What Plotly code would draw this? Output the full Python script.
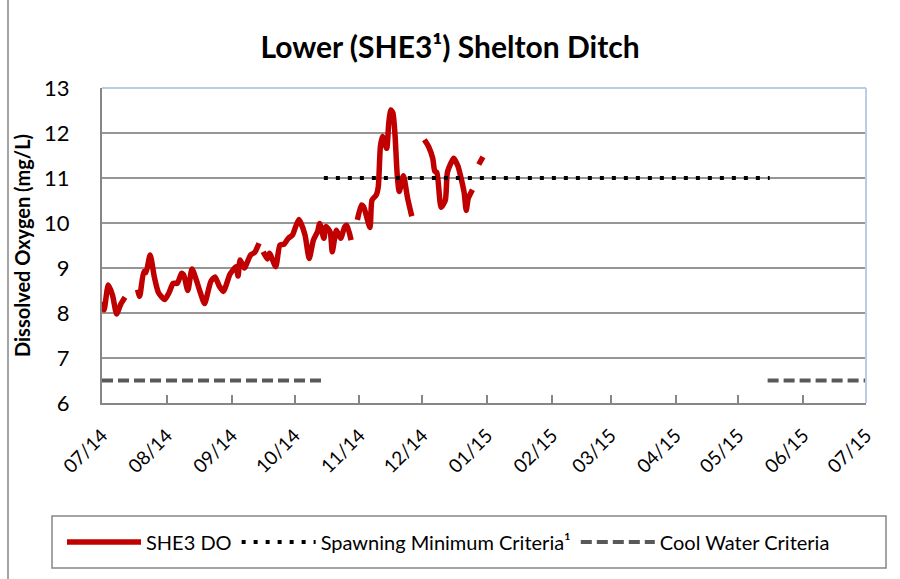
import plotly.graph_objects as go

# Daily dissolved oxygen readings at SHE3 (mg/L); None marks gaps in the record
do_dates = [
    "2014-07-01", "2014-07-02", "2014-07-04", "2014-07-06", "2014-07-08", "2014-07-10", "2014-07-12",
    "2014-07-15",
    "2014-07-18", "2014-07-19", "2014-07-21", "2014-07-22", "2014-07-24", "2014-07-26", "2014-07-28",
    "2014-07-31", "2014-08-02", "2014-08-04", "2014-08-06", "2014-08-08", "2014-08-09", "2014-08-11",
    "2014-08-13", "2014-08-15", "2014-08-17", "2014-08-19", "2014-08-22", "2014-08-24", "2014-08-26",
    "2014-08-28", "2014-08-31", "2014-09-01", "2014-09-03", "2014-09-04", "2014-09-05", "2014-09-07",
    "2014-09-10", "2014-09-12", "2014-09-14",
    "2014-09-15",
    "2014-09-16", "2014-09-18", "2014-09-19", "2014-09-22", "2014-09-24", "2014-09-26", "2014-09-28",
    "2014-09-30", "2014-10-01", "2014-10-03", "2014-10-04", "2014-10-06", "2014-10-08", "2014-10-10",
    "2014-10-12", "2014-10-13", "2014-10-15", "2014-10-16", "2014-10-18", "2014-10-19", "2014-10-21",
    "2014-10-23", "2014-10-25", "2014-10-26", "2014-10-28",
    "2014-10-29",
    "2014-10-31", "2014-11-02", "2014-11-03", "2014-11-06", "2014-11-07", "2014-11-09", "2014-11-10",
    "2014-11-11", "2014-11-12", "2014-11-14", "2014-11-15", "2014-11-16", "2014-11-17", "2014-11-18",
    "2014-11-19", "2014-11-20", "2014-11-22", "2014-11-24", "2014-11-26",
    "2014-11-29",
    "2014-12-02", "2014-12-04", "2014-12-06", "2014-12-07", "2014-12-08", "2014-12-10", "2014-12-12",
    "2014-12-13", "2014-12-15", "2014-12-16", "2014-12-18", "2014-12-19", "2014-12-21", "2014-12-22",
    "2014-12-23", "2014-12-25",
    "2014-12-27",
    "2014-12-28", "2014-12-30",
]
do_values = [
    8.25, 8.07, 8.62, 8.40, 7.98, 8.20, 8.35,
    None,
    8.52, 8.37, 8.92, 8.90, 9.29, 8.80, 8.45,
    8.30, 8.45, 8.66, 8.66, 8.88, 8.85, 8.50,
    8.98, 8.74, 8.45, 8.21, 8.70, 8.80, 8.60,
    8.48, 8.85, 8.92, 9.03, 8.82, 9.18, 9.00,
    9.29, 9.35, 9.55,
    None,
    9.36, 9.20, 9.33, 9.03, 9.51, 9.53, 9.66,
    9.73, 9.85, 10.08, 10.00, 9.73, 9.21, 9.62,
    9.81, 9.99, 9.66, 9.92, 9.80, 9.36, 9.84,
    9.66, 9.92, 9.95, 9.62,
    None,
    10.07, 10.40, 10.36, 9.90, 10.51, 10.62, 10.81,
    11.70, 11.92, 11.66, 12.22, 12.51, 12.44, 11.95,
    11.10, 10.70, 11.05, 10.55, 10.15,
    None,
    11.85, 11.70, 11.44, 11.15, 11.12, 10.35, 10.50,
    11.12, 11.36, 11.44, 11.27, 11.10, 10.68, 10.28,
    10.55, 10.74,
    None,
    11.30, 11.47,
]

# Criteria (mg/L) and the periods they apply to
spawning_dates = ["2014-10-15", "2015-05-16"]
spawning_values = [11, 11]
cool_dates = ["2014-07-01", "2014-10-14", None, "2015-05-15", "2015-07-01"]
cool_values = [6.5, 6.5, None, 6.5, 6.5]

month_ticks = ["2014-07-01", "2014-08-01", "2014-09-01", "2014-10-01", "2014-11-01",
               "2014-12-01", "2015-01-01", "2015-02-01", "2015-03-01", "2015-04-01",
               "2015-05-01", "2015-06-01", "2015-07-01"]
month_labels = ["07/14", "08/14", "09/14", "10/14", "11/14", "12/14", "01/15",
                "02/15", "03/15", "04/15", "05/15", "06/15", "07/15"]

FONT = "Lato"

# plot area in pixels, used to place the frame and legend box in paper units
PL, PR, PT, PB = 102, 866, 88, 403
W, H = 900, 579


def px_x(p):
    return (p - PL) / (PR - PL)


def px_y(p):
    return (PB - p) / (PB - PT)


fig = go.Figure()
fig.add_trace(go.Scatter(
    x=do_dates, y=do_values, name="SHE3 DO", mode="lines",
    line=dict(color="#C00000", width=5.5, shape="spline", smoothing=0.6),
    connectgaps=False,
))
fig.add_trace(go.Scatter(
    x=spawning_dates, y=spawning_values, name="Spawning Minimum Criteria¹", mode="lines",
    line=dict(color="#000000", width=4, dash="4px,8px"),
))
fig.add_trace(go.Scatter(
    x=cool_dates, y=cool_values, name="Cool Water Criteria", mode="lines",
    line=dict(color="#595959", width=4, dash="11px,5px"),
    connectgaps=False,
))

fig.update_layout(
    width=W, height=H,
    margin=dict(l=PL, r=W - PR, t=PT, b=H - PB, autoexpand=False),
    paper_bgcolor="white", plot_bgcolor="white",
    font=dict(family=FONT, color="#000000"),
    title=dict(text="<b>Lower (SHE3¹) Shelton Ditch</b>", x=0.5, xref="container",
               y=1 - 47 / H, yanchor="middle", font=dict(size=30, family=FONT)),
    showlegend=True,
    legend=dict(
        orientation="h", x=px_x(62), y=px_y(542), xanchor="left", yanchor="middle",
        borderwidth=0, bgcolor="rgba(0,0,0,0)", font=dict(size=20, family=FONT),
        itemwidth=74,
    ),
    shapes=[
        # plot-area frame on the top and right
        dict(type="line", xref="paper", yref="paper", x0=0, x1=1, y0=1, y1=1,
             line=dict(color="#B9CDE5", width=2), layer="above"),
        dict(type="line", xref="paper", yref="paper", x0=1, x1=1, y0=0, y1=1,
             line=dict(color="#B9CDE5", width=2), layer="above"),
        # legend box
        dict(type="rect", xref="paper", yref="paper",
             x0=px_x(52), x1=px_x(886), y0=px_y(568), y1=px_y(516),
             line=dict(color="#868686", width=1.5)),
        # outer chart frame
        dict(type="line", xref="paper", yref="paper", x0=px_x(8), x1=px_x(8), y0=-0.6, y1=1.3,
             line=dict(color="#868686", width=1.5)),
    ],
)

fig.update_xaxes(
    type="date", range=["2014-07-01", "2015-07-01"],
    tickmode="array", tickvals=month_ticks, ticktext=month_labels,
    tickangle=-45, tickfont=dict(size=19, family=FONT),
    ticks="inside", ticklen=8, tickcolor="#868686", tickwidth=1.5,
    showline=True, linecolor="#868686", linewidth=2,
    showgrid=False, zeroline=False, ticklabelstandoff=12,
)
fig.update_yaxes(
    range=[6, 13], dtick=1, tick0=6,
    tickfont=dict(size=22, family=FONT),
    showgrid=True, gridcolor="#969696", gridwidth=1.8,
    showline=True, linecolor="#868686", linewidth=2,
    zeroline=False, ticks="", ticklabelstandoff=26,
    title=dict(text="<b>Dissolved Oxygen (mg/L)</b>", font=dict(size=20, family=FONT), standoff=8),
)

fig.write_html("out.html")
